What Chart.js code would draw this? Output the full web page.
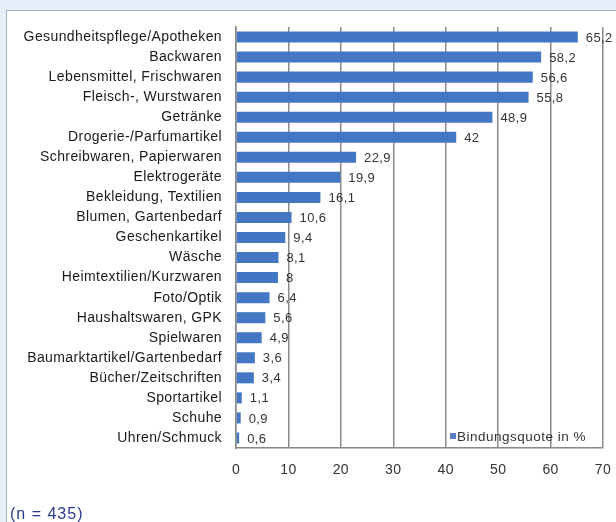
<!DOCTYPE html>
<html><head><meta charset="utf-8">
<script src="https://cdn.jsdelivr.net/npm/chart.js@4"></script>
<style>
html,body{margin:0;padding:0;width:616px;height:522px;overflow:hidden;background:#e6eff9;}
#box{position:absolute;left:6px;top:10px;width:640px;height:540px;background:#fff;border:1px solid #aab3bd;}
#wrap{position:absolute;left:0;top:0;width:616px;height:522px;}
#note{position:absolute;left:10px;top:505px;font:16px "Liberation Sans",Arial,sans-serif;letter-spacing:1px;color:#2b3a8c;}
</style></head>
<body>
<div id="box"></div>
<div id="wrap"><canvas id="c" width="616" height="522"></canvas></div>
<div id="note">(n = 435)</div>
<script>
const categories = ["Gesundheitspflege/Apotheken","Backwaren","Lebensmittel, Frischwaren","Fleisch-, Wurstwaren","Getränke","Drogerie-/Parfumartikel","Schreibwaren, Papierwaren","Elektrogeräte","Bekleidung, Textilien","Blumen, Gartenbedarf","Geschenkartikel","Wäsche","Heimtextilien/Kurzwaren","Foto/Optik","Haushaltswaren, GPK","Spielwaren","Baumarktartikel/Gartenbedarf","Bücher/Zeitschriften","Sportartikel","Schuhe","Uhren/Schmuck"];
const values = [65.2,58.2,56.6,55.8,48.9,42,22.9,19.9,16.1,10.6,9.4,8.1,8,6.4,5.6,4.9,3.6,3.4,1.1,0.9,0.6];
const seriesLabel = "Bindungsquote in %";
const xTicks = [0,10,20,30,40,50,60,70];

const FONT = '"Liberation Sans", Arial, sans-serif';
const barColor = '#4377c4';

const spacing = {
  id:'spacing',
  beforeUpdate(chart){ chart.ctx.letterSpacing = '0.4px'; },
  beforeDraw(chart){ chart.ctx.letterSpacing = '0.4px'; }
};
const valueLabels = {
  id:'valueLabels',
  afterDatasetsDraw(chart){
    const ctx = chart.ctx;
    const meta = chart.getDatasetMeta(0);
    ctx.save();
    ctx.letterSpacing = '0.4px';
    ctx.font = '13px ' + FONT;
    ctx.fillStyle = '#333';
    ctx.textBaseline = 'middle';
    ctx.textAlign = 'left';
    meta.data.forEach((bar,i)=>{
      const t = String(values[i]).replace('.',',');
      ctx.fillText(t, bar.x + 8, bar.y + 1);
    });
    ctx.restore();
  }
};
const legendBox = {
  id:'legendBox',
  afterDraw(chart){
    const ctx = chart.ctx;
    const a = chart.chartArea;
    ctx.save();
    ctx.fillStyle = '#5a7fc0';
    ctx.fillRect(a.right-153, a.bottom-15, 6, 6);
    ctx.letterSpacing = '0.5px';
    ctx.font = '13.5px ' + FONT;
    ctx.fillStyle = '#333';
    ctx.textBaseline = 'middle';
    ctx.fillText(chart.data.datasets[0].label, a.right-146, a.bottom-11);
    ctx.restore();
  }
};

new Chart(document.getElementById('c'), {
  type:'bar',
  data:{labels:categories, datasets:[{label:seriesLabel, data:values, backgroundColor:barColor, borderWidth:0, barPercentage:0.55, categoryPercentage:1}]},
  options:{
    indexAxis:'y',
    responsive:false,
    animation:false,
    devicePixelRatio:1,
    layout:{padding:{top:27, right:13, bottom:0, left:0}},
    plugins:{legend:{display:false}, tooltip:{enabled:false}},
    scales:{
      x:{
        min:0, max:70,
        afterBuildTicks(s){ s.ticks = xTicks.map(v=>({value:v})); },
        grid:{color:'#8a8a8a', lineWidth:1.5, drawTicks:false},
        border:{display:true, color:'#8a8a8a', width:1.5},
        ticks:{font:{size:14, family:FONT}, color:'#333', padding:14},
        afterFit(s){ s.height = 74; s.paddingLeft = 0; s.paddingRight = 0; }
      },
      y:{
        grid:{display:false, drawTicks:false},
        border:{display:true, color:'#8a8a8a', width:1.5},
        ticks:{font:{size:14, family:FONT}, color:'#1a1a1a', padding:14, autoSkip:false},
        afterFit(s){ s.width = 236; s.paddingTop = 0; s.paddingBottom = 0; }
      }
    }
  },
  plugins:[spacing, valueLabels, legendBox]
});
</script>
</body></html>
